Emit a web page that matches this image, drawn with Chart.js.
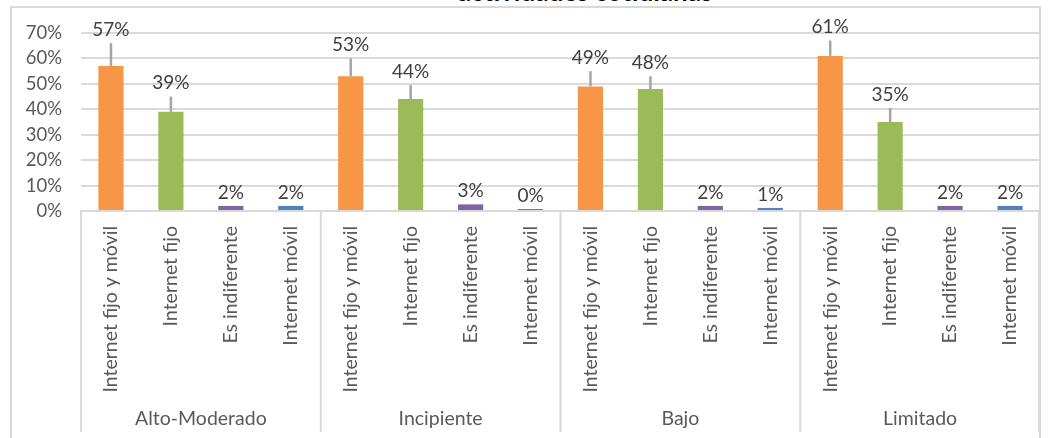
<!DOCTYPE html>
<html>
<head>
<meta charset="utf-8">
<script src="https://cdn.jsdelivr.net/npm/chart.js@4.4.1/dist/chart.umd.min.js"></script>
<style>
  html, body { margin: 0; padding: 0; background: #fff; overflow: hidden; }
  #wrap { position: relative; width: 1050px; height: 438px; }
  #frame { position: absolute; left: 10px; top: 6px; width: 1031px; height: 445px;
           border: 2px solid #d9d9d9; box-sizing: border-box; }
  #title { position: absolute; left: 0; top: -22px; width: 1170px; text-align: center;
           font: bold 26px Lato, sans-serif; line-height: 26px; color: #000; }
  canvas { position: absolute; left: 0; top: 0; }
</style>
</head>
<body>
<div id="wrap">
  <div id="frame"></div>
  <div id="title">actividades cotidianas</div>
  <canvas id="myChart" width="1050" height="438"></canvas>
</div>
<script>
// categorias
const groups = ['Alto-Moderado', 'Incipiente', 'Bajo', 'Limitado']
const answers = ['Internet fijo y móvil', 'Internet fijo', 'Es indiferente', 'Internet móvil']
const answerColors = ['#F79646', '#9BBB59', '#8064A2', '#4F81BD']

// porcentajes por grupo
const altoModerado = [57, 39, 2, 2]
const incipiente = [53, 44, 2.6, 0.4]
const bajo = [49, 48, 2, 1.2]
const limitado = [61, 35, 2, 2]

// barras de error (solo hacia arriba)
const errAltoModerado = [9, 6, 0, 0]
const errIncipiente = [7, 5.5, 0, 0]
const errBajo = [6, 5, 0, 0]
const errLimitado = [6, 5.5, 0, 0]

const yTicks = [0, 10, 20, 30, 40, 50, 60, 70]

let values = [...altoModerado, ...incipiente, ...bajo, ...limitado]
let errors = [...errAltoModerado, ...errIncipiente, ...errBajo, ...errLimitado]
let labels = []
let colors = []
groups.forEach(() => {
  answers.forEach((a, j) => {
    labels.push(a)
    colors.push(answerColors[j])
  })
})

const extras = {
  id: 'extras',
  afterDatasetsDraw(chart) {
    const ctx = chart.ctx
    const y = chart.scales.y
    const x = chart.scales.x
    const meta = chart.getDatasetMeta(0)
    ctx.save()
    meta.data.forEach((bar, i) => {
      let top = bar.y
      if (errors[i] > 0) {
        const yt = y.getPixelForValue(values[i] + errors[i])
        ctx.strokeStyle = '#a5a5a5'
        ctx.lineWidth = 2.5
        ctx.beginPath()
        ctx.moveTo(bar.x, bar.y)
        ctx.lineTo(bar.x, yt)
        ctx.stroke()
        top = yt
      }
      ctx.fillStyle = '#404040'
      ctx.font = '19px Lato'
      ctx.textAlign = 'center'
      ctx.textBaseline = 'bottom'
      ctx.fillText(Math.round(values[i]) + '%', bar.x, top - 4)
    })
    // separadores de grupo bajo el eje
    const n = answers.length
    ctx.strokeStyle = '#d9d9d9'
    ctx.lineWidth = 2
    for (let k = 0; k <= groups.length; k++) {
      let px
      if (k == 0) px = x.left
      else if (k == groups.length) px = x.right - 1
      else px = (x.getPixelForValue(k * n - 1) + x.getPixelForValue(k * n)) / 2
      ctx.beginPath()
      ctx.moveTo(px, x.top)
      ctx.lineTo(px, 432)
      ctx.stroke()
    }
    ctx.restore()
  }
}

new Chart(document.getElementById('myChart'), {
  type: 'bar',
  data: {
    labels: labels,
    datasets: [{
      data: values,
      backgroundColor: colors,
      borderWidth: 0,
      minBarLength: 2,
      categoryPercentage: 1,
      barPercentage: 0.42
    }]
  },
  plugins: [extras],
  options: {
    responsive: false,
    animation: false,
    layout: { padding: { top: 33, right: 10, left: 0, bottom: 0 } },
    plugins: { legend: { display: false }, tooltip: { enabled: false } },
    scales: {
      y: {
        min: 0,
        max: 70,
        afterBuildTicks: (s) => { s.ticks = yTicks.map(v => ({ value: v })) },
        afterFit: (s) => { s.width = 81 },
        grid: { color: '#d9d9d9', lineWidth: 2, drawTicks: false },
        border: { display: false },
        ticks: {
          padding: 19,
          color: '#595959',
          font: { family: 'Lato', size: 18.5 },
          callback: (v) => v + '%'
        }
      },
      x: {
        afterFit: (s) => { s.height = 184 },
        grid: { display: false, drawTicks: false },
        border: { display: true, color: '#d9d9d9', width: 2 },
        ticks: {
          autoSkip: false,
          minRotation: 90,
          maxRotation: 90,
          padding: 15,
          color: '#595959',
          font: { family: 'Lato', size: 19.5 }
        }
      },
      groups: {
        type: 'category',
        position: 'bottom',
        labels: groups,
        offset: true,
        afterFit: (s) => { s.height = 43 },
        grid: { display: false, drawTicks: false },
        border: { display: false },
        ticks: {
          padding: 12,
          color: '#595959',
          font: { family: 'Lato', size: 19.5 }
        }
      }
    }
  }
})
</script>
</body>
</html>
